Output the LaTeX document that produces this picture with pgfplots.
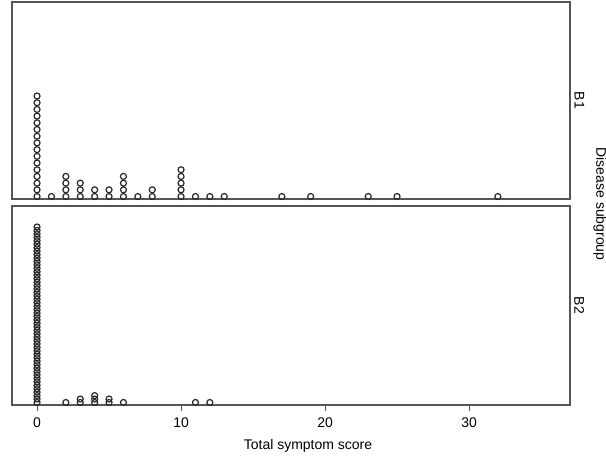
\documentclass[border=0pt]{standalone}
\usepackage{pgfplots}
\pgfplotsset{compat=1.18}
\usepackage{fontspec}
\setmainfont{Liberation Sans}
\definecolor{framegray}{RGB}{85,85,85}
\definecolor{dotgray}{RGB}{40,40,40}

\pgfplotsset{
  panel/.style={
    scale only axis,
    width=418.5pt,
    xmin=-1.74, xmax=37.01,
    axis line style={framegray, line width=0.8pt},
    ytick=\empty,
    clip=false,
  },
  dots/.style={dotgray, only marks, mark=o, mark size=2.25pt,
    mark options={solid, line width=0.9pt, draw=dotgray, fill=white}},
}

\begin{document}
\fontsize{10.5}{12}\selectfont
\begin{tikzpicture}
% B2 panel (bottom)
\begin{axis}[panel, name=bot, at={(0pt,0pt)}, anchor=south west,
    height=149.25pt,
    ymin=0.27, ymax=58.1,
    xtick={0,10,20,30},
    tick align=outside, major tick length=4.5pt,
    xtick style={framegray, line width=0.8pt},
    xtick pos=bottom,
    ticklabel style={font=\fontsize{10.5}{12}\selectfont, yshift=-1.5pt},
    /pgf/number format/assume math mode=true,
  ]
  \addplot[dots] coordinates {
    (0,1) (0,2) (0,3) (0,4) (0,5) (0,6) (0,7) (0,8) (0,9) (0,10)
    (0,11) (0,12) (0,13) (0,14) (0,15) (0,16) (0,17) (0,18) (0,19) (0,20)
    (0,21) (0,22) (0,23) (0,24) (0,25) (0,26) (0,27) (0,28) (0,29) (0,30)
    (0,31) (0,32) (0,33) (0,34) (0,35) (0,36) (0,37) (0,38) (0,39) (0,40)
    (0,41) (0,42) (0,43) (0,44) (0,45) (0,46) (0,47) (0,48) (0,49) (0,50)
    (0,51) (0,52)
    (2,1)
    (3,1) (3,2)
    (4,1) (4,2) (4,3)
    (5,1) (5,2)
    (6,1)
    (11,1) (12,1)
  };
\end{axis}
% B1 panel (top)
\begin{axis}[panel, name=top, at={(0pt,154.5pt)}, anchor=south west,
    height=147.75pt,
    ymin=0.63, ymax=30.03,
    xtick=\empty,
  ]
  \addplot[dots] coordinates {
    (0,1) (0,2) (0,3) (0,4) (0,5) (0,6) (0,7) (0,8)
    (0,9) (0,10) (0,11) (0,12) (0,13) (0,14) (0,15) (0,16)
    (1,1)
    (2,1) (2,2) (2,3) (2,4)
    (3,1) (3,2) (3,3)
    (4,1) (4,2)
    (5,1) (5,2)
    (6,1) (6,2) (6,3) (6,4)
    (7,1)
    (8,1) (8,2)
    (10,1) (10,2) (10,3) (10,4) (10,5)
    (11,1) (12,1) (13,1)
    (17,1) (19,1) (23,1) (25,1) (32,1)
  };
\end{axis}
\node[rotate=-90] at ([xshift=7pt]top.east) {B1};
\node[rotate=-90] at ([xshift=7pt]bot.east) {B2};
\node[rotate=-90] at (441pt,150.75pt) {Disease subgroup};
\node at (222pt,-30.5pt) {Total symptom score};
\pgfresetboundingbox
\path[use as bounding box] (-9pt,-39pt) rectangle (445.5pt,303.75pt);
\end{tikzpicture}
\end{document}
